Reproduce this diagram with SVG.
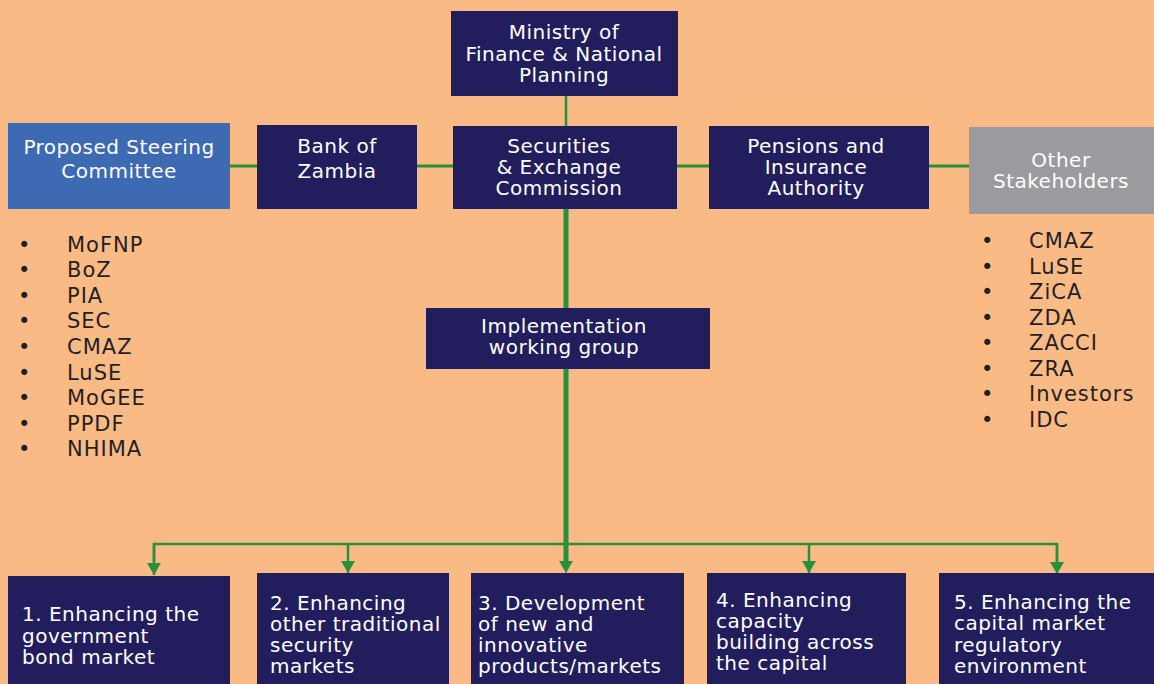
<svg xmlns="http://www.w3.org/2000/svg" width="1154" height="684" viewBox="0 0 1154 684">
<defs>
<style>
.box{fill:#221E5E}
.t{font-family:"DejaVu Sans","Noto Sans",sans-serif;font-size:20px;letter-spacing:0.5px;fill:#ffffff}
.c{text-anchor:middle}
.l{font-family:"DejaVu Sans","Noto Sans",sans-serif;font-size:21px;letter-spacing:1px;fill:#231F20}
.g{stroke:#28903A;fill:none}
</style>
<marker id="ah" viewBox="0 0 12 14" refX="12" refY="7" markerWidth="12" markerHeight="14" markerUnits="userSpaceOnUse" orient="auto">
<path d="M0,0 L12,7 L0,14 Z" fill="#28903A"/>
</marker>
</defs>
<rect width="1154" height="684" fill="#F9BA86"/>
<g id="connectors">
<line class="g" x1="566" y1="96" x2="566" y2="126" stroke-width="2.5"/>
<line class="g" x1="230" y1="166" x2="257" y2="166" stroke-width="3"/>
<line class="g" x1="417" y1="166" x2="453" y2="166" stroke-width="3"/>
<line class="g" x1="677" y1="166" x2="709" y2="166" stroke-width="3"/>
<line class="g" x1="929" y1="166" x2="969" y2="166" stroke-width="3"/>
<line class="g" x1="566" y1="209" x2="566" y2="562" stroke-width="5"/>
<line class="g" x1="566" y1="555" x2="566" y2="573" stroke-width="1" marker-end="url(#ah)"/>
<polyline class="g" points="154,562 154,544 1057,544 1057,562" stroke-width="2.5"/>
<line class="g" x1="154" y1="544" x2="154" y2="575" stroke-width="2.5" marker-end="url(#ah)"/>
<line class="g" x1="348" y1="544" x2="348" y2="573" stroke-width="2.5" marker-end="url(#ah)"/>
<line class="g" x1="809" y1="544" x2="809" y2="573" stroke-width="2.5" marker-end="url(#ah)"/>
<line class="g" x1="1057" y1="544" x2="1057" y2="574" stroke-width="2.5" marker-end="url(#ah)"/>
</g>
<g id="ministry">
<rect class="box" x="451" y="11" width="227" height="85"/>
<text class="t c" x="564" y="39">Ministry of</text>
<text class="t c" x="564" y="61">Finance &amp; National</text>
<text class="t c" x="564" y="82">Planning</text>
</g>
<g id="steering">
<rect x="8" y="123" width="222" height="86" fill="#3D6AB3"/>
<text class="t c" x="119" y="154">Proposed Steering</text>
<text class="t c" x="119" y="178">Committee</text>
</g>
<g id="boz">
<rect class="box" x="257" y="125" width="160" height="84"/>
<text class="t c" x="337" y="153">Bank of</text>
<text class="t c" x="337" y="178">Zambia</text>
</g>
<g id="sec">
<rect class="box" x="453" y="126" width="224" height="83"/>
<text class="t c" x="559" y="153">Securities</text>
<text class="t c" x="559" y="174">&amp; Exchange</text>
<text class="t c" x="559" y="195">Commission</text>
</g>
<g id="pia">
<rect class="box" x="709" y="126" width="220" height="83"/>
<text class="t c" x="816" y="153">Pensions and</text>
<text class="t c" x="816" y="174">Insurance</text>
<text class="t c" x="816" y="195">Authority</text>
</g>
<g id="other">
<rect x="969" y="127" width="185" height="87" fill="#9B9A9E"/>
<text class="t c" x="1061" y="167">Other</text>
<text class="t c" x="1061" y="188">Stakeholders</text>
</g>
<g id="steering-list">
<text class="l" x="18" y="252">•</text><text class="l" x="67" y="252">MoFNP</text>
<text class="l" x="18" y="277">•</text><text class="l" x="67" y="277">BoZ</text>
<text class="l" x="18" y="303">•</text><text class="l" x="67" y="303">PIA</text>
<text class="l" x="18" y="328">•</text><text class="l" x="67" y="328">SEC</text>
<text class="l" x="18" y="354">•</text><text class="l" x="67" y="354">CMAZ</text>
<text class="l" x="18" y="380">•</text><text class="l" x="67" y="380">LuSE</text>
<text class="l" x="18" y="405">•</text><text class="l" x="67" y="405">MoGEE</text>
<text class="l" x="18" y="431">•</text><text class="l" x="67" y="431">PPDF</text>
<text class="l" x="18" y="456">•</text><text class="l" x="67" y="456">NHIMA</text>
</g>
<g id="stakeholder-list">
<text class="l" x="981" y="248">•</text><text class="l" x="1029" y="248">CMAZ</text>
<text class="l" x="981" y="274">•</text><text class="l" x="1029" y="274">LuSE</text>
<text class="l" x="981" y="299">•</text><text class="l" x="1029" y="299">ZiCA</text>
<text class="l" x="981" y="325">•</text><text class="l" x="1029" y="325">ZDA</text>
<text class="l" x="981" y="350">•</text><text class="l" x="1029" y="350">ZACCI</text>
<text class="l" x="981" y="376">•</text><text class="l" x="1029" y="376">ZRA</text>
<text class="l" x="981" y="401">•</text><text class="l" x="1029" y="401">Investors</text>
<text class="l" x="981" y="427">•</text><text class="l" x="1029" y="427">IDC</text>
</g>
<g id="implementation">
<rect class="box" x="426" y="308" width="284" height="61"/>
<text class="t c" x="564" y="333">Implementation</text>
<text class="t c" x="564" y="354">working group</text>
</g>
<g id="goal1">
<rect class="box" x="8" y="576" width="222" height="108"/>
<text class="t" x="22" y="621">1. Enhancing the</text>
<text class="t" x="22" y="643">government</text>
<text class="t" x="22" y="664">bond market</text>
</g>
<g id="goal2">
<rect class="box" x="257" y="573" width="192" height="111"/>
<text class="t" x="270" y="610">2. Enhancing</text>
<text class="t" x="270" y="631">other traditional</text>
<text class="t" x="270" y="652">security</text>
<text class="t" x="270" y="673">markets</text>
</g>
<g id="goal3">
<rect class="box" x="471" y="573" width="213" height="111"/>
<text class="t" x="478" y="610">3. Development</text>
<text class="t" x="478" y="631">of new and</text>
<text class="t" x="478" y="652">innovative</text>
<text class="t" x="478" y="673">products/markets</text>
</g>
<g id="goal4">
<rect class="box" x="707" y="573" width="199" height="111"/>
<text class="t" x="716" y="607">4. Enhancing</text>
<text class="t" x="716" y="628">capacity</text>
<text class="t" x="716" y="649">building across</text>
<text class="t" x="716" y="670">the capital</text>
</g>
<g id="goal5">
<rect class="box" x="939" y="573" width="215" height="111"/>
<text class="t" x="954" y="609">5. Enhancing the</text>
<text class="t" x="954" y="630">capital market</text>
<text class="t" x="954" y="652">regulatory</text>
<text class="t" x="954" y="673">environment</text>
</g>
</svg>
